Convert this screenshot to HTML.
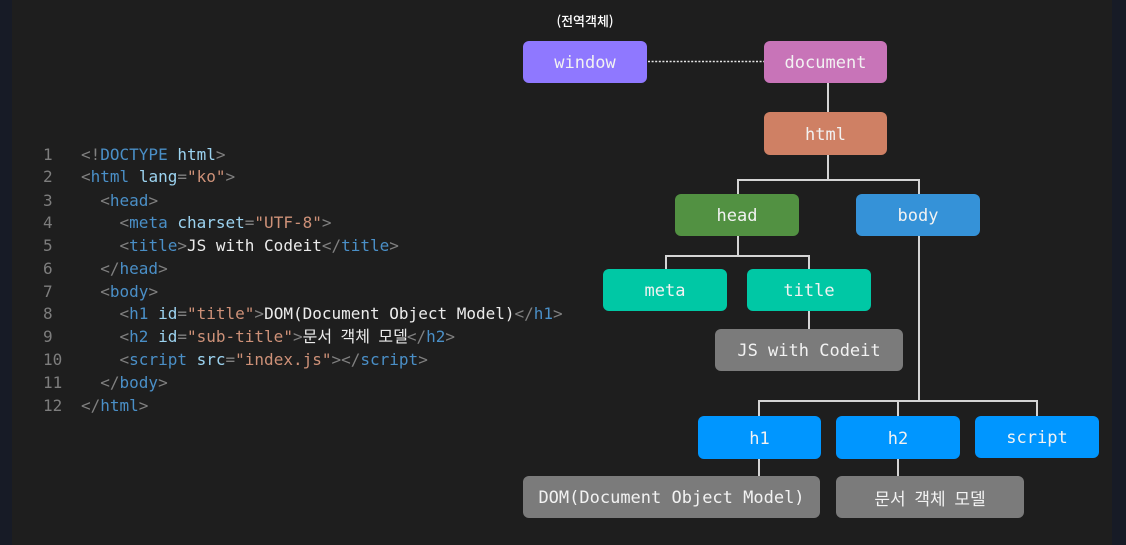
<!DOCTYPE html>
<html lang="ko">
<head>
<meta charset="utf-8">
<title>DOM tree</title>
<style>
html,body{margin:0;padding:0;width:1126px;height:545px;overflow:hidden;background:#1e1e1e}
#stage{position:relative;width:1126px;height:545px;background:#1e1e1e;overflow:hidden;font-family:"DejaVu Sans Mono","Liberation Mono","Noto Sans CJK KR",monospace}
.side{position:absolute;top:0;height:545px;background:#171b26}
.n{position:absolute;display:flex;align-items:center;justify-content:center;border-radius:6px;color:#f2f2f2;font-size:17px;white-space:pre;box-sizing:border-box;padding-top:2px}
.l{position:absolute;background:#d4d4d4}
.code{position:absolute;left:81px;white-space:pre;font-size:16px;line-height:22.8px;height:22.8px;color:#808080}
.num{position:absolute;left:43px;font-size:16px;line-height:22.8px;height:22.8px;color:#7d7d7d}
.t{color:#4a8fc7}.a{color:#9cd3f0}.s{color:#ce9178}.w{color:#ececec}
.ko{font-family:"Noto Sans CJK KR",sans-serif}
</style>
</head>
<body>
<div id="stage">
<div class="side" style="left:0;width:12px"></div>
<div class="side" style="left:1112px;width:14px"></div>

<div class="num" style="top:144px">1</div>
<div class="num" style="top:166px">2</div>
<div class="num" style="top:189.6px">3</div>
<div class="num" style="top:212.4px">4</div>
<div class="num" style="top:235.2px">5</div>
<div class="num" style="top:258px">6</div>
<div class="num" style="top:280.8px">7</div>
<div class="num" style="top:303px">8</div>
<div class="num" style="top:326.4px">9</div>
<div class="num" style="top:349.2px">10</div>
<div class="num" style="top:372px">11</div>
<div class="num" style="top:394.8px">12</div>

<div class="code" style="top:144px">&lt;!<span class="t">DOCTYPE</span> <span class="a">html</span>&gt;</div>
<div class="code" style="top:166px">&lt;<span class="t">html</span> <span class="a">lang</span>=<span class="s">"ko"</span>&gt;</div>
<div class="code" style="top:189.6px">  &lt;<span class="t">head</span>&gt;</div>
<div class="code" style="top:212.4px">    &lt;<span class="t">meta</span> <span class="a">charset</span>=<span class="s">"UTF-8"</span>&gt;</div>
<div class="code" style="top:235.2px">    &lt;<span class="t">title</span>&gt;<span class="w">JS with Codeit</span>&lt;/<span class="t">title</span>&gt;</div>
<div class="code" style="top:258px">  &lt;/<span class="t">head</span>&gt;</div>
<div class="code" style="top:280.8px">  &lt;<span class="t">body</span>&gt;</div>
<div class="code" style="top:303px">    &lt;<span class="t">h1</span> <span class="a">id</span>=<span class="s">"title"</span>&gt;<span class="w">DOM(Document Object Model)</span>&lt;/<span class="t">h1</span>&gt;</div>
<div class="code" style="top:326.4px">    &lt;<span class="t">h2</span> <span class="a">id</span>=<span class="s">"sub-title"</span>&gt;<span class="w ko" style="line-height:0;word-spacing:4px;margin-right:-1px">문서 객체 모델</span>&lt;/<span class="t">h2</span>&gt;</div>
<div class="code" style="top:349.2px">    &lt;<span class="t">script</span> <span class="a">src</span>=<span class="s">"index.js"</span>&gt;&lt;/<span class="t">script</span>&gt;</div>
<div class="code" style="top:372px">  &lt;/<span class="t">body</span>&gt;</div>
<div class="code" style="top:394.8px">&lt;/<span class="t">html</span>&gt;</div>

<!-- connectors -->
<svg style="position:absolute;left:0;top:0" width="1126" height="545">
  <line x1="648" y1="61.5" x2="764" y2="61.5" stroke="#e6e6e6" stroke-width="1.6" stroke-dasharray="2 1.6"/>
</svg>
<div class="l" style="left:827px;top:83px;width:2px;height:30px"></div>
<div class="l" style="left:827px;top:155px;width:2px;height:25px"></div>
<div class="l" style="left:737px;top:179px;width:182px;height:2px"></div>
<div class="l" style="left:737px;top:179px;width:2px;height:15px"></div>
<div class="l" style="left:918px;top:179px;width:2px;height:15px"></div>
<div class="l" style="left:737px;top:236px;width:2px;height:21px"></div>
<div class="l" style="left:665px;top:255px;width:145px;height:2px"></div>
<div class="l" style="left:665px;top:255px;width:2px;height:14px"></div>
<div class="l" style="left:808px;top:255px;width:2px;height:14px"></div>
<div class="l" style="left:808px;top:311px;width:2px;height:18px"></div>
<div class="l" style="left:918px;top:236px;width:2px;height:166px"></div>
<div class="l" style="left:758px;top:400px;width:280px;height:2px"></div>
<div class="l" style="left:758px;top:400px;width:2px;height:16px"></div>
<div class="l" style="left:897px;top:400px;width:2px;height:16px"></div>
<div class="l" style="left:1036px;top:400px;width:2px;height:16px"></div>
<div class="l" style="left:758px;top:458px;width:2px;height:19px"></div>
<div class="l" style="left:897px;top:458px;width:2px;height:19px"></div>

<!-- nodes -->
<div style="position:absolute;left:540px;top:12px;width:90px;text-align:center;color:#fff;font:500 13px/18px 'Noto Sans CJK KR',sans-serif">(전역객체)</div>
<div class="n" style="left:523px;top:41px;width:124px;height:42px;background:#8f78ff">window</div>
<div class="n" style="left:764px;top:41px;width:123px;height:42px;background:#c874b8">document</div>
<div class="n" style="left:764px;top:112px;width:123px;height:43px;background:#cf8064">html</div>
<div class="n" style="left:675px;top:194px;width:124px;height:42px;background:#529142">head</div>
<div class="n" style="left:856px;top:194px;width:124px;height:42px;background:#3592d8">body</div>
<div class="n" style="left:603px;top:269px;width:124px;height:42px;background:#00c8a5">meta</div>
<div class="n" style="left:747px;top:269px;width:124px;height:42px;background:#00c8a5">title</div>
<div class="n" style="left:715px;top:329px;width:188px;height:42px;background:#7b7b7b">JS with Codeit</div>
<div class="n" style="left:698px;top:416px;width:123px;height:43px;background:#0096ff">h1</div>
<div class="n" style="left:836px;top:416px;width:124px;height:43px;background:#0096ff">h2</div>
<div class="n" style="left:975px;top:416px;width:124px;height:42px;background:#0096ff">script</div>
<div class="n" style="left:523px;top:476px;width:297px;height:42px;background:#7b7b7b">DOM(Document Object Model)</div>
<div class="n ko" style="left:836px;top:476px;width:188px;height:42px;background:#7b7b7b;font-size:17px;word-spacing:4px;padding-top:0">문서 객체 모델</div>
</div>
</body>
</html>
